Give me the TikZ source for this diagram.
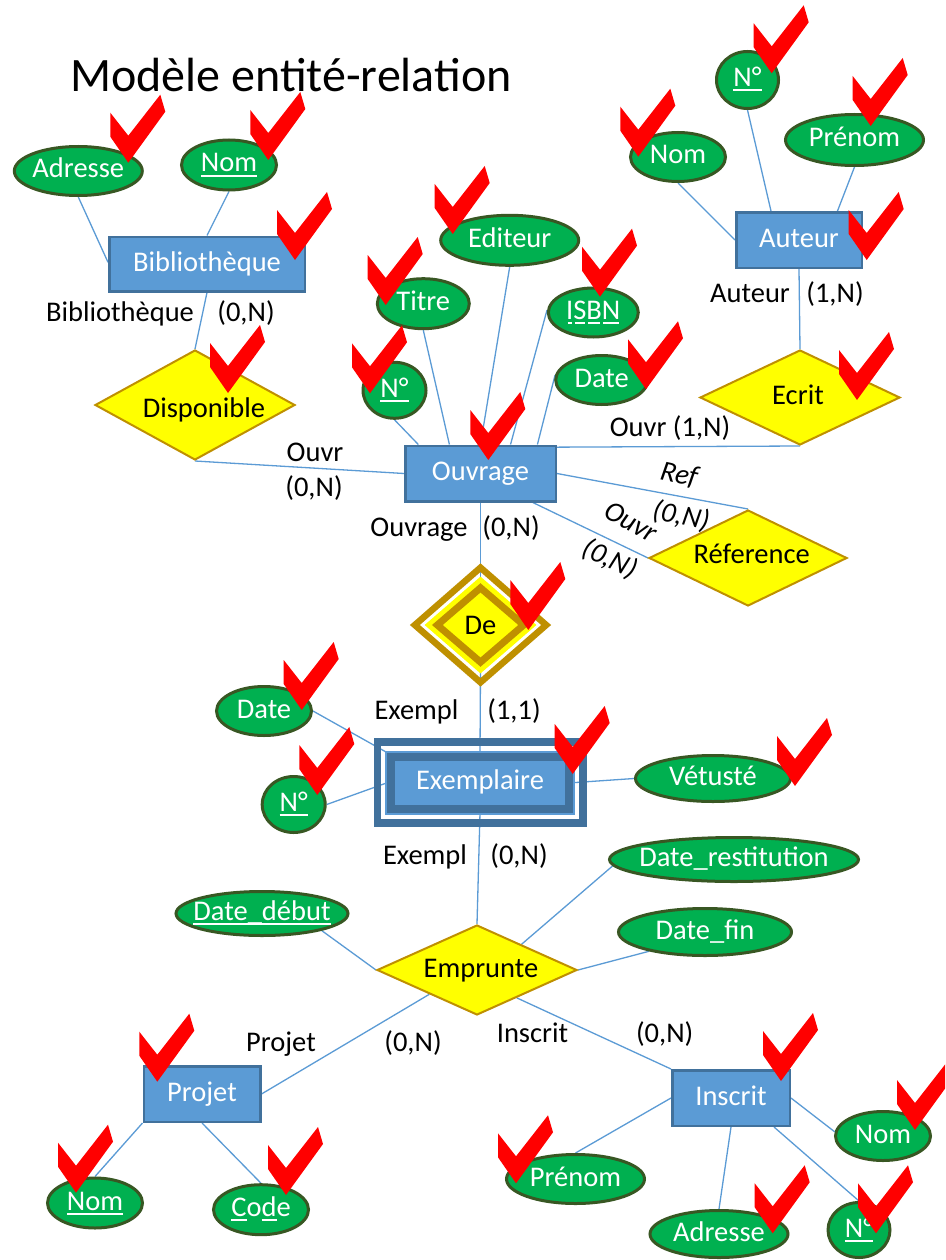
\documentclass[tikz,border=0pt]{standalone}
\usepackage{fontspec}
\setmainfont{Carlito}
\usetikzlibrary{shapes.geometric}
\definecolor{entf}{HTML}{5B9BD5}
\definecolor{entb}{HTML}{41719C}
\definecolor{relf}{HTML}{FFFF00}
\definecolor{relb}{HTML}{BF9000}
\definecolor{attf}{HTML}{00B050}
\definecolor{attb}{HTML}{385723}
\definecolor{lnk}{HTML}{5B9BD5}
\definecolor{chkred}{HTML}{FF0000}
\pgfdeclarelayer{bg}
\pgfdeclarelayer{canvas}
\pgfsetlayers{canvas,bg,main}
\newcommand\checkmk[1]{\fill[chkred,shift={#1}] (0,0) -- (-18,-26) -- (-18,-50) -- (0,-27) -- (32,-68) -- (37,-51) -- cycle;}
\newcommand\ulw[1]{\setbox0\hbox{#1}\rlap{\rule[-4.5pt]{\wd0}{2pt}}\box0}
\newcommand\ulx[1]{\setbox0\hbox{#1}\rlap{\hspace{1.5pt}\rule[-4.5pt]{\dimexpr\wd0-3pt\relax}{2pt}}\box0}
\newcommand\attr[5]{\node[att,minimum width=#3pt,minimum height=#4pt] (#1) at #2 {}; \node[wt] at (#1) {#5};}
\begin{document}
\begin{tikzpicture}[x=1pt,y=-1pt,
 txt/.style={font=\fontsize{28.5}{34}\selectfont, text height=20pt, text depth=6pt, inner sep=0pt},
 ent/.style={rectangle, draw=entb, fill=entf, line width=2.5pt, inner sep=0pt, txt, text=white},
 rel/.style={diamond, draw=relb, fill=relf, line width=2pt, inner sep=0pt},
 att/.style={ellipse, draw=attb, fill=attf, line width=3pt, inner sep=0pt},
 wt/.style={txt, text=white},
 bt/.style={txt, text=black},
 lab/.style={font=\fontsize{28.5}{34}\selectfont, inner sep=0pt, anchor=base},
 ilab/.style={font=\fontsize{28.5}{34}\selectfont\itshape, inner sep=0pt},
 link/.style={draw=lnk, line width=1.3pt},
]
\useasboundingbox (0,0) rectangle (945,1260);
\clip (0,0) rectangle (945,1260);
\begin{pgfonlayer}{canvas}
\fill[white] (0,0) rectangle (945,1260);
\end{pgfonlayer}

% title
\node[anchor=base west, font=\fontsize{48}{56}\selectfont, inner sep=0pt] (title) at (70,91.7) {Modèle entité-relation};

% entities
\node[ent, minimum width=195.5pt, minimum height=54.5pt] (bib) at (207,264) {Bibliothèque};
\node[ent, minimum width=125.5pt, minimum height=55.5pt] (aut) at (799,240) {Auteur};
\node[ent, minimum width=150.5pt, minimum height=55.5pt] (ouv) at (480.5,473.5) {Ouvrage};
\node[ent, minimum width=116.5pt, minimum height=55.5pt] (pro) at (202,1094) {Projet};
\node[ent, minimum width=117.5pt, minimum height=55.5pt] (ins) at (731,1098) {Inscrit};

% Exemplaire (weak entity)
\node[draw=entb, line width=7.5pt, minimum width=205.2pt, minimum height=80.9pt, inner sep=0pt] (exeo) at (480.3,782.5) {};
\fill[entf] (385.3,750.7) rectangle (574.7,814.7);
\node[ent, line width=8pt, minimum width=177.4pt, minimum height=52pt] (exei) at (480,782.7) {Exemplaire};

% relationships
\node[rel, minimum width=200pt, minimum height=110pt] (dis) at (195,405) {};
\node[bt] at (204,410) {Disponible};
\node[rel, minimum width=200pt, minimum height=95pt] (ecr) at (800,397.5) {};
\node[bt] at (798,397) {Ecrit};
\node[rel, minimum width=198pt, minimum height=96pt] (ref) at (748,558) {};
\node[bt] at (751.7,556.7) {Réference};
\node[rel, minimum width=200pt, minimum height=90pt] (emp) at (477,970) {};
\node[bt] at (481,970) {Emprunte};

% De (weak relationship)
\node[diamond, draw=relb, line width=6.5pt, minimum width=134pt, minimum height=117.4pt, inner sep=0pt] (deo) at (480.5,625) {};
\node[diamond, fill=relf, minimum width=112pt, minimum height=97pt, inner sep=0pt] (deh) at (480.5,625) {};
\node[diamond, draw=relb, fill=relf, line width=7pt, minimum width=89.2pt, minimum height=77.2pt, inner sep=0pt] (dei) at (480.5,625) {};
\node[bt] at (480.5,627) {De};

% attributes
\attr{aadr}{(78.3,171)}{128}{49}{Adresse}
\attr{abnom}{(229,165)}{95}{50}{\ulw{Nom}}
\attr{atit}{(423.3,303.7)}{92}{50}{Titre}
\attr{aedi}{(509.7,240.3)}{138}{50}{Editeur}
\attr{aisbn}{(593.3,312.5)}{90}{49}{\ulx{I}\ulx{S}\ulx{B}\ulx{N}}
\attr{aonum}{(394.5,390.3)}{63}{56}{\ulw{N°}}
\attr{aodate}{(601.7,380)}{92}{49}{Date}
\attr{aanum}{(747.5,80)}{62}{57}{\ulw{N°}}
\attr{aanom}{(678,157)}{95}{49}{Nom}
\attr{aapre}{(854.5,140)}{138}{51}{Prénom}
\attr{aedate}{(264,711)}{95}{49}{Date}
\attr{aenum}{(293.7,804.5)}{63}{56}{\ulw{N°}}
\attr{avet}{(713,778.5)}{155}{46}{Vétusté}
\attr{arest}{(734,859.5)}{249}{44}{Date\_restitution}
\attr{afin}{(705,932)}{173}{47}{Date\_fin}
\attr{adeb}{(262,913.5)}{172}{44}{\ulw{Date\_début}}
\attr{apnom}{(95,1203)}{95}{50}{\ulw{Nom}}
\attr{acode}{(261,1209.7)}{95}{50}{\ulw{C}o\ulw{d}e}
\attr{aipre}{(575.5,1179)}{138}{49}{Prénom}
\attr{aiadr}{(719,1234)}{138}{47}{Adresse}
\attr{ainum}{(859,1230)}{62}{55}{\ulw{N°}}
\attr{ainom}{(883,1136)}{95}{49}{Nom}

% cardinality labels
\node[lab] at (120,321.7) {Bibliothèque};
\node[lab] at (246,321.7) {(0,N)};
\node[lab] at (750,302) {Auteur};
\node[lab] at (835,302) {(1,N)};
\node[lab] at (315,461) {Ouvr};
\node[lab] at (314,496) {(0,N)};
\node[lab] at (670,436) {Ouvr (1,N)};
\node[lab] at (419,536) {Ouvrage};
\node[lab] at (511,536) {(0,N)};
\node[lab] at (416.5,719) {Exempl};
\node[lab] at (514,719) {(1,1)};
\node[lab] at (425,864) {Exempl};
\node[lab] at (519,864) {(0,N)};
\node[lab] at (281,1051) {Projet};
\node[lab] at (413,1051) {(0,N)};
\node[lab] at (532.5,1042) {Inscrit};
\node[lab] at (664.7,1042) {(0,N)};
\node[ilab, rotate=-12] at (679,475) {Ref};
\node[ilab, rotate=-12] at (681,516) {(0,N)};
\node[ilab, rotate=-28] at (631,522) {Ouvr};
\node[ilab, rotate=-25] at (610,559) {(0,N)};

% connectors
\begin{pgfonlayer}{bg}
\draw[link] (aadr.-90) -- (bib.179);
\draw[link] (abnom.-90) -- (bib.north);
\draw[link] (bib.south) -- (dis.north);
\draw[link] (dis.south) -- (ouv.west);
\draw[link] (atit.-90) -- (ouv.137);
\draw[link] (aedi.-90) -- (ouv.north);
\draw[link] (aisbn.177) -- (ouv.44.5);
\draw[link] (aodate.174) -- (ouv.27);
\draw[link] (aonum.-90) -- (ouv.155.7);
\draw[link] (ouv.19.1) -- (ecr.south);
\draw[link] (ecr.north) -- (aut.south);
\draw[link] (aanom.-90) -- (aut.west);
\draw[link] (aanum.-90) -- (aut.134);
\draw[link] (aapre.-90) -- (aut.37.4);
\draw[link] (ouv.east) -- (ref.north);
\draw[link] (ouv.-29.6) -- (ref.west);
\draw[link] (ouv.south) -- (dei.north);
\draw[link] (dei.south) -- (exei.north);
\draw[link] (aedate.east) -- (exei.north west);
\draw[link] (aenum.east) -- (exei.west);
\draw[link] (avet.west) -- (exei.east);
\draw[link] (exei.south) -- (emp.north);
\draw[link] (arest.183.5) -- (emp.30.8);
\draw[link] (afin.199.5) -- (emp.east);
\draw[link] (adeb.-16) -- (emp.west);
\draw[link] (emp.207) -- (pro.east);
\draw[link] (emp.-35.2) -- (ins.north west);
\draw[link] (pro.south west) -- (apnom.north);
\draw[link] (pro.south) -- (acode.north);
\draw[link] (ins.west) -- (aipre.north);
\draw[link] (ins.south) -- (aiadr.north);
\draw[link] (ins.-34.7) -- (ainum.north);
\draw[link] (ins.east) -- (ainom.175);
\end{pgfonlayer}

% check marks
\checkmk{(771.7,73.3)}
\checkmk{(638.3,156.7)}
\checkmk{(870.7,126)}
\checkmk{(866.7,260)}
\checkmk{(128.3,162.7)}
\checkmk{(268.3,160)}
\checkmk{(295,260)}
\checkmk{(452.7,234)}
\checkmk{(385.7,305)}
\checkmk{(600,296.7)}
\checkmk{(370,393.3)}
\checkmk{(646,389.3)}
\checkmk{(488.3,460)}
\checkmk{(228,393)}
\checkmk{(857,400)}
\checkmk{(528.3,630)}
\checkmk{(301.7,710)}
\checkmk{(317.3,795)}
\checkmk{(572.7,774)}
\checkmk{(795,786)}
\checkmk{(157.3,1081.7)}
\checkmk{(76,1192.7)}
\checkmk{(286,1195)}
\checkmk{(781,1081)}
\checkmk{(915,1130)}
\checkmk{(516,1183.3)}
\checkmk{(772.7,1233.3)}
\checkmk{(876,1233.3)}
\end{tikzpicture}
\end{document}
